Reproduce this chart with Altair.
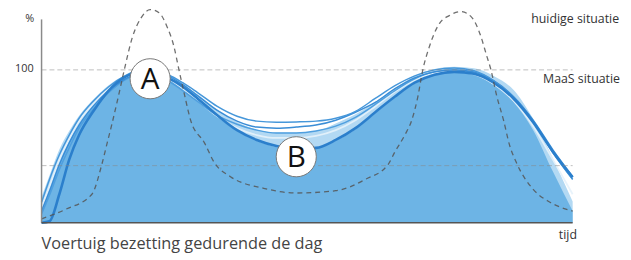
import altair as alt
import pandas as pd

# time grid (arbitrary time units across the day)
t = [0, 8, 18, 28, 38, 53, 68, 83, 98, 113, 128, 143, 158, 178, 198, 218, 238, 258,
     278, 298, 318, 338, 358, 378, 398, 418, 438, 458, 478, 498, 518, 538]

# MaaS situation: filled occupancy area and its lighter envelope (%)
fill_v = [6, 20, 38, 53, 64, 77, 87, 94, 97.5, 97.5, 94, 88, 80.5, 69.5, 60, 53.5, 49.5, 47.5,
          48.5, 53.5, 61, 71.5, 82, 91, 96.5, 98.5, 96.5, 90, 79, 60.6, 33.5, 7.7]
band_v = [17, 31, 48, 60, 70, 81, 90, 96, 100, 100, 97, 91, 84, 74, 66, 61, 59, 59,
          60, 65, 71, 79, 88, 96, 100.5, 102, 101, 96, 87, 68, 42, 14]

# individual MaaS scenario lines (%)
line_a = [13.5, 28.4, 44.5, 57.4, 68.4, 80.0, 89.0, 95.5, 99.4, 99.4, 96.8, 91.6, 85.2, 76.1, 69.7, 66.5,
          65.8, 66.0, 66.5, 68.4, 72.9, 81.3, 89.7, 96.1, 100.0, 101.3, 99.4, 92.9, 81.9, 65.8, 45.8, 28.4]
line_b = [7.7, 20.6, 38.1, 52.3, 63.9, 76.8, 86.5, 93.5, 97.4, 98.1, 96.1, 90.3, 83.2, 73.5, 66.5, 62.6,
          61.9, 62.6, 63.9, 67.1, 72.3, 78.7, 87.7, 94.8, 98.7, 100.0, 98.7, 92.9, 82.6, 67.1, 47.7, 30.3]
line_c = [10.3, 23.9, 41.3, 54.8, 66.5, 78.1, 87.7, 94.2, 97.4, 97.4, 94.2, 87.7, 80.0, 69.7, 61.9, 57.4,
          55.5, 55.5, 56.8, 60.6, 67.1, 76.1, 85.8, 93.5, 98.1, 99.4, 97.4, 90.9, 80.0, 63.2, 41.3, 18.7]
line_d = [0, 1, 18.7, 41.3, 57.4, 73.5, 86.5, 94.8, 98.1, 98.1, 94.8, 89.0, 81.3, 70.3, 60.6, 54.2,
          50.3, 48.4, 49.0, 54.2, 61.9, 72.3, 82.6, 91.6, 96.8, 98.7, 97.4, 91.6, 81.3, 65.8, 46.5, 29.7]
line_e = [5.8, 18.1, 34.8, 49.0, 61.9, 74.8, 85.2, 92.9, 96.8, 96.8, 92.9, 86.5, 79.4, 70.3, 64.5, 60.6,
          58.7, 58.7, 60.0, 63.2, 69.0, 77.4, 86.5, 94.2, 98.7, 100.0, 98.1, 92.3, 81.9, 66.5, 46.5, 28.4]

# current situation (dashed curve)
cur_t = [0, 25, 51, 61, 66, 71, 78, 84, 92, 101, 110, 119, 127, 134, 139, 145, 151, 165, 175, 191,
         225, 258, 298, 328, 351, 358, 368, 375, 381, 386, 393, 403, 413, 425, 436, 445, 451, 455,
         461, 468, 474, 481, 498, 515, 538]
cur_v = [2.6, 9.0, 18.7, 38.1, 51.0, 63.9, 83.2, 100.6, 121.3, 134.2, 139.4, 137.4, 128.4, 115.5,
         100.6, 83.2, 67.1, 52.3, 39.4, 30.3, 22.6, 19.5, 21.0, 28.4, 38.1, 46.5, 57.4, 67.1, 81.9,
         99.4, 115.5, 130.3, 135.5, 138.1, 134.2, 121.9, 109.0, 100.6, 83.2, 67.1, 51.0, 39.4, 21.9,
         13.5, 7.7]

ref_levels = [100, 37.4]
ref_end = 538
labels = ["A", "B"]
label_t = [110, 258]
label_v = [94.2, 43.2]

W, H = 538, 216
xs = alt.Scale(domain=[0, 538])
ys = alt.Scale(domain=[0, 139.4])
X = alt.X("t:Q", scale=xs, axis=None)
Y = alt.Y("v:Q", scale=ys, axis=None)

band_df = pd.DataFrame({"t": t, "v": band_v})
fill_df = pd.DataFrame({"t": t, "v": fill_v})

band = alt.Chart(band_df).mark_area(color="#b3d9f3", interpolate="monotone").encode(x=X, y=Y)
fill = alt.Chart(fill_df).mark_area(color="#6db4e5", interpolate="monotone").encode(x=X, y=Y)

def ln(vals, color, width, op=1.0):
    d = pd.DataFrame({"t": t, "v": vals})
    return alt.Chart(d).mark_line(color=color, strokeWidth=width, opacity=op,
                                  interpolate="monotone").encode(x=X, y=Y)

lines = [
    ln(line_c, "#e6f2fb", 1.8, 0.9),
    ln(line_e, "#4f9fdf", 1.5),
    ln(line_b, "#3a8dd6", 1.5),
    ln(line_a, "#4697da", 1.5),
    ln(line_d, "#2b7fcc", 2.6),
]

hdf = pd.DataFrame({"v": ref_levels, "t0": [0, 0], "t1": [ref_end, ref_end]})
hlines = alt.Chart(hdf).mark_rule(color="#888888", opacity=0.55, strokeDash=[5, 3],
                                  strokeWidth=1).encode(
    x=alt.X("t0:Q", scale=xs, axis=None), x2="t1:Q", y=Y)

cur_df = pd.DataFrame({"t": cur_t, "v": cur_v})
cur = alt.Chart(cur_df).mark_line(color="#555555", opacity=0.85, strokeDash=[5, 4],
                                  strokeWidth=1.3, interpolate="monotone").encode(x=X, y=Y)

yaxis = alt.Chart(pd.DataFrame({"t": [0], "v0": [0], "v1": [133]})).mark_rule(
    color="#8a8a8a", strokeWidth=1.5).encode(
    x=alt.X("t:Q", scale=xs, axis=None), y=alt.Y("v0:Q", scale=ys, axis=None), y2="v1:Q")
xaxis = alt.Chart(pd.DataFrame({"t0": [0], "t1": [ref_end], "v": [0]})).mark_rule(
    color="#555555", strokeWidth=1.5).encode(
    x=alt.X("t0:Q", scale=xs, axis=None), x2="t1:Q", y=Y)

ldf = pd.DataFrame({"label": labels, "t": label_t, "v": label_v})
circles = alt.Chart(ldf).mark_point(shape="circle", filled=True, fill="white", stroke="#777777",
                                    strokeWidth=1, opacity=1, size=1650).encode(x=X, y=Y)
letters = alt.Chart(ldf).mark_text(font="Open Sans", fontSize=30, color="#111111",
                                   baseline="middle", align="center", dy=1).encode(
    x=X, y=Y, text="label:N")

def txt(s, x, y, size=12, align="left", color="#333333"):
    return alt.Chart(pd.DataFrame({"s": [s]})).mark_text(
        font="Open Sans", fontSize=size, align=align, baseline="middle", color=color).encode(
        x=alt.value(x), y=alt.value(y), text="s:N")

texts = [
    txt("%", -12, 10, 11, "center"),
    txt("100", -8, 60, 11, "right"),
    txt("huidige situatie", 496, 10, 12.5),
    txt("MaaS situatie", 508, 70, 12.5),
    txt("tijd", 524, 228, 12.5),
    txt("Voertuig bezetting gedurende de dag", 0, 238, 16.5, "left", "#444444"),
]

chart = alt.layer(band, fill, *lines, hlines, cur, yaxis, xaxis, circles, letters, *texts).properties(
    width=W, height=H,
    autosize=alt.AutoSizeParams(type="none"),
    padding={"left": 34, "top": 0, "right": 51, "bottom": 36},
).configure_view(stroke=None)

chart.save("out.html", embed_options={"renderer": "svg", "actions": False})
